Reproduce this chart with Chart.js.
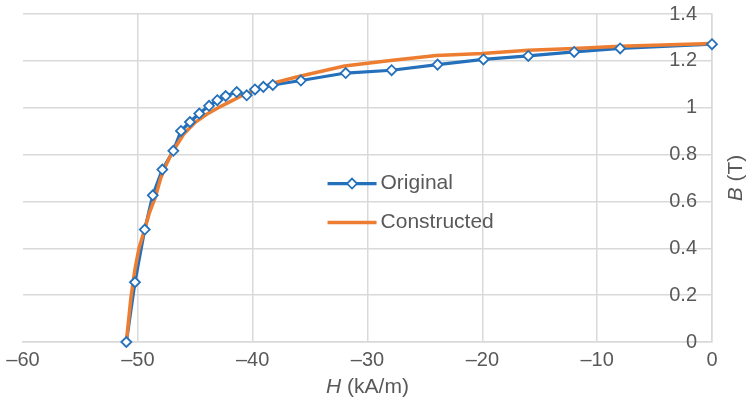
<!DOCTYPE html>
<html><head><meta charset="utf-8">
<script src="https://cdn.jsdelivr.net/npm/chart.js@4/dist/chart.umd.min.js"></script>
<style>html,body{margin:0;padding:0;background:#fff}#wrap{width:747px;height:404px;position:relative}</style>
</head><body><div id="wrap"><canvas id="c"></canvas></div>
<script>
// ---- data ----
const originalH = [-51.0, -50.25, -49.4, -48.7, -47.87, -46.91, -46.24, -45.46, -44.65, -43.8, -43.08, -42.35, -41.39, -40.52, -39.8, -39.07, -38.25, -35.8, -31.9, -27.9, -23.9, -19.9, -16.0, -12.0, -8.0, 0.0];
const originalB = [0.0, 0.255, 0.48, 0.626, 0.736, 0.816, 0.901, 0.939, 0.975, 1.008, 1.032, 1.05, 1.067, 1.053, 1.078, 1.089, 1.097, 1.116, 1.148, 1.16, 1.184, 1.206, 1.221, 1.238, 1.253, 1.271];
const constructedH = [-51.0, -50.6, -50.25, -49.9, -49.5, -49.0, -48.5, -48.0, -47.5, -47.0, -46.0, -45.0, -44.0, -43.0, -42.0, -41.0, -40.0, -38.0, -36.0, -32.0, -28.0, -24.0, -20.0, -16.0, -12.0, -8.0, 0.0];
const constructedB = [0.0, 0.19, 0.31, 0.40, 0.465, 0.55, 0.615, 0.70, 0.76, 0.81, 0.888, 0.938, 0.972, 1.0, 1.025, 1.05, 1.072, 1.108, 1.133, 1.178, 1.202, 1.223, 1.231, 1.245, 1.253, 1.262, 1.274];
const xTicks = [-60, -50, -40, -30, -20, -10, 0];
const yTicks = [0, 0.2, 0.4, 0.6, 0.8, 1.0, 1.2, 1.4];
const yTickLabels = ['0', '0.2', '0.4', '0.6', '0.8', '1', '1.2', '1.4'];
const seriesNames = ['Original', 'Constructed'];
const xTitle = ['H', ' (kA/m)'];
const yTitle = ['B', ' (T)'];

// ---- style ----
const FONT = "'Liberation Sans', Arial, Helvetica, sans-serif";
const TEXT = '#595959';
const GRID = '#d9d9d9';
const BLUE = '#2570BA';
const ORANGE = '#ED7D31';

const pts = (xs, ys) => xs.map((x, i) => ({x: x, y: ys[i]}));

const titlesAndLegend = {
  id: 'titlesAndLegend',
  afterDraw(chart) {
    const ctx = chart.ctx, a = chart.chartArea;
    const drawMixed = (parts, cx, cy, size) => {
      ctx.font = 'italic ' + size + 'px ' + FONT;
      const w1 = ctx.measureText(parts[0]).width;
      ctx.font = size + 'px ' + FONT;
      const w2 = ctx.measureText(parts[1]).width;
      let x0 = cx - (w1 + w2) / 2;
      ctx.textAlign = 'left'; ctx.textBaseline = 'middle'; ctx.fillStyle = TEXT;
      ctx.font = 'italic ' + size + 'px ' + FONT;
      ctx.fillText(parts[0], x0, cy);
      ctx.font = size + 'px ' + FONT;
      ctx.fillText(parts[1], x0 + w1, cy);
    };
    ctx.save();
    drawMixed(xTitle, (a.left + a.right) / 2, a.bottom + 45, 21);
    ctx.translate(a.right + 24, (a.top + a.bottom) / 2);
    ctx.rotate(-Math.PI / 2);
    drawMixed(yTitle, 0, 0, 21);
    ctx.restore();

    // legend
    ctx.save();
    const lx = a.left + 0.442 * (a.right - a.left);
    const ly1 = a.top + 0.517 * (a.bottom - a.top);
    const ly2 = a.top + 0.636 * (a.bottom - a.top);
    ctx.lineWidth = 3.2; ctx.strokeStyle = BLUE; ctx.lineCap = 'butt';
    ctx.beginPath(); ctx.moveTo(lx, ly1); ctx.lineTo(lx + 49, ly1); ctx.stroke();
    ctx.fillStyle = '#fff'; ctx.lineWidth = 1.8;
    const dx = lx + 24.5, r = 5;
    ctx.beginPath(); ctx.moveTo(dx, ly1 - r); ctx.lineTo(dx + r, ly1); ctx.lineTo(dx, ly1 + r); ctx.lineTo(dx - r, ly1); ctx.closePath();
    ctx.fill(); ctx.stroke();
    ctx.lineWidth = 3.5; ctx.strokeStyle = ORANGE;
    ctx.beginPath(); ctx.moveTo(lx, ly2); ctx.lineTo(lx + 49, ly2); ctx.stroke();
    ctx.fillStyle = TEXT; ctx.font = '21px ' + FONT; ctx.textAlign = 'left'; ctx.textBaseline = 'middle';
    ctx.fillText(seriesNames[0], lx + 53, ly1);
    ctx.fillText(seriesNames[1], lx + 53, ly2);
    ctx.restore();
  }
};

new Chart(document.getElementById('c'), {
  type: 'scatter',
  data: {
    datasets: [
      { label: seriesNames[0] + ' markers', data: pts(originalH, originalB), showLine: false,
        pointStyle: 'rectRot', pointRadius: 5, pointBackgroundColor: '#fff', pointBorderColor: BLUE,
        pointBorderWidth: 1.8, order: 0, clip: false },
      { label: seriesNames[1], data: pts(constructedH, constructedB), showLine: true,
        borderColor: ORANGE, borderWidth: 3.5, pointRadius: 0, tension: 0, order: 1, clip: false },
      { label: seriesNames[0], data: pts(originalH, originalB), showLine: true,
        borderColor: BLUE, borderWidth: 3.2, pointRadius: 0, tension: 0, order: 2, clip: false }
    ]
  },
  options: {
    responsive: true, maintainAspectRatio: false, animation: false, devicePixelRatio: 1,
    layout: { padding: { left: 23, right: 35, top: 14, bottom: 26 } },
    plugins: { legend: { display: false }, tooltip: { enabled: false } },
    scales: {
      x: {
        type: 'linear', min: -60, max: 0,
        afterBuildTicks: s => { s.ticks = xTicks.map(v => ({value: v})); },
        ticks: { font: { size: 20, family: FONT }, color: TEXT, padding: 6, maxRotation: 0, autoSkip: false,
          callback: v => String(v).replace('-', '\u2013') },
        grid: { color: c => (c.tick && c.tick.value === -60) ? 'rgba(0,0,0,0)' : GRID, lineWidth: 1.5, drawTicks: false },
        border: { color: GRID, width: 1.5 }
      },
      y: {
        type: 'linear', position: 'right', min: 0, max: 1.4,
        afterBuildTicks: s => { s.ticks = yTicks.map(v => ({value: v})); },
        ticks: { mirror: true, padding: -15, font: { size: 20, family: FONT }, color: TEXT, autoSkip: false,
          callback: (v, i) => yTickLabels[i] },
        grid: { color: GRID, lineWidth: 1.5, drawTicks: false },
        border: { color: GRID, width: 1.5 }
      }
    }
  },
  plugins: [titlesAndLegend]
});
</script></body></html>
